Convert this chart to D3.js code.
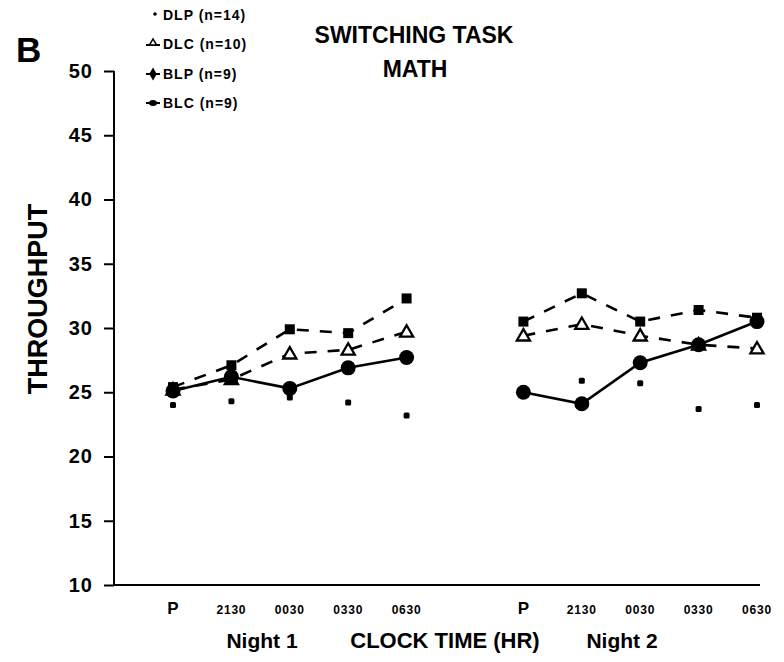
<!DOCTYPE html>
<html><head><meta charset="utf-8">
<script src="https://cdn.jsdelivr.net/npm/d3@7"></script>
<style>body{margin:0;background:#fff}svg{display:block}text{font-family:"Liberation Sans",Arial,sans-serif;font-weight:bold;fill:#000}</style>
</head><body>
<script>
const timeLabels = ["P","2130","0030","0330","0630","P","2130","0030","0330","0630"];
const timeIndex = [0,1,2,3,4,6,7,8,9,10];
const yTicks = [10,15,20,25,30,35,40,45,50];
const dlp = [24.0,24.3,24.6,24.2,23.2, 25.0,25.9,25.7,23.7,24.0];
const dlc = [25.2,26.0,28.0,28.3,29.7, 29.4,30.3,29.4,28.7,28.4];
const blp = [25.1,26.2,25.3,26.9,27.7, 25.0,24.1,27.3,28.7,30.5];
const blc = [25.4,27.1,29.9,29.6,32.3, 30.5,32.7,30.5,31.4,30.8];
const legendLabels = ["DLP (n=14)","DLC (n=10)","BLP (n=9)","BLC (n=9)"];

const W=784,H=662;
const svg=d3.select("body").append("svg").attr("width",W).attr("height",H);
const x=d3.scaleLinear().domain([0,10]).range([173,757]);
const y=d3.scaleLinear().domain([10,50]).range([585,71]);

// axes
const yAxis=d3.axisLeft(y).tickValues(yTicks).tickSize(10).tickPadding(11);
const gy=svg.append("g").attr("transform","translate(114,0)").call(yAxis);
gy.select(".domain").attr("stroke","#000").attr("stroke-width",2).attr("d","M0,71V585");
gy.selectAll(".tick line").attr("stroke-width",2);
gy.selectAll(".tick text").style("font-size","20px").style("letter-spacing","1px").attr("font-family",'"Liberation Sans",Arial,sans-serif').attr("font-weight","bold");
svg.append("line").attr("x1",114).attr("x2",760).attr("y1",585).attr("y2",585).attr("stroke","#000").attr("stroke-width",2.2);

// x labels
svg.selectAll("text.xl").data(timeLabels).enter().append("text").attr("class","xl")
 .attr("x",(d,i)=>x(timeIndex[i])).attr("y",614).attr("text-anchor","middle")
 .style("font-size",d=>d==="P"?"17px":"12px").style("letter-spacing",d=>d==="P"?"0px":"0.8px").text(d=>d);

svg.append("text").attr("x",262).attr("y",648).attr("text-anchor","middle").style("font-size","21px").text("Night 1");
svg.append("text").attr("x",445).attr("y",648).attr("text-anchor","middle").style("font-size","22px").text("CLOCK TIME (HR)");
svg.append("text").attr("x",622).attr("y",648).attr("text-anchor","middle").style("font-size","21px").text("Night 2");

svg.append("text").attr("transform","translate(47,299) rotate(-90)").attr("text-anchor","middle").style("font-size","27px").text("THROUGHPUT");
svg.append("text").attr("x",16).attr("y",62).style("font-size","35px").text("B");
svg.append("text").attr("x",414).attr("y",43).attr("text-anchor","middle").style("font-size","23px").text("SWITCHING TASK");
svg.append("text").attr("x",415).attr("y",77).attr("text-anchor","middle").style("font-size","23px").text("MATH");

// lines
function segs(vals){return [vals.slice(0,5).map((v,i)=>[timeIndex[i],v]), vals.slice(5).map((v,i)=>[timeIndex[i+5],v])];}
const line=d3.line().x(d=>x(d[0])).y(d=>y(d[1]));
function drawLine(vals,dash){
  segs(vals).forEach(s=>svg.append("path").attr("d",line(s)).attr("fill","none").attr("stroke","#000")
   .attr("stroke-width",2.6).attr("stroke-dasharray",dash||null));
}
drawLine(blc,"12,11");
drawLine(dlc,"12,11");
drawLine(blp,null);

// markers
const pts=v=>v.map((d,i)=>[timeIndex[i],d]);
svg.selectAll("rect.blc").data(pts(blc)).enter().append("rect")
 .attr("x",d=>x(d[0])-5).attr("y",d=>y(d[1])-5).attr("width",10).attr("height",10).attr("fill","#000");
const tri=d3.symbol().type(d3.symbolTriangle).size(75);
svg.selectAll("path.dlc").data(pts(dlc)).enter().append("path")
 .attr("transform",d=>`translate(${x(d[0])},${y(d[1])+1})`).attr("d",tri).attr("fill","#fff").attr("stroke","#000").attr("stroke-width",2.3);
svg.selectAll("circle.blp").data(pts(blp)).enter().append("circle")
 .attr("cx",d=>x(d[0])).attr("cy",d=>y(d[1])).attr("r",7.5).attr("fill","#000");
svg.selectAll("rect.dlp").data(pts(dlp)).enter().append("rect")
 .attr("x",d=>x(d[0])-3).attr("y",d=>y(d[1])-3).attr("width",6).attr("height",6).attr("rx",1.5).attr("fill","#000");

// legend
const ly=[15,44,74,103];
const lg=svg.append("g");
legendLabels.forEach((t,i)=>{
  lg.append("text").attr("x",163).attr("y",ly[i]+5).style("font-size","14px").style("letter-spacing","1px").text(t);
});
lg.append("circle").attr("cx",155).attr("cy",ly[0]-1).attr("r",1.8).attr("fill","#000");
lg.append("line").attr("x1",146).attr("x2",160).attr("y1",ly[1]+1).attr("y2",ly[1]+1).attr("stroke","#000").attr("stroke-width",2);
lg.append("path").attr("transform",`translate(153,${ly[1]-1})`).attr("d",d3.symbol().type(d3.symbolTriangle).size(22)).attr("fill","#fff").attr("stroke","#000").attr("stroke-width",1.5);
lg.append("path").attr("transform",`translate(153,${ly[2]})`).attr("d",d3.symbol().type(d3.symbolDiamond).size(50)).attr("fill","#000");
lg.append("line").attr("x1",146).attr("x2",160).attr("y1",ly[2]).attr("y2",ly[2]).attr("stroke","#000").attr("stroke-width",2);
lg.append("line").attr("x1",146).attr("x2",160).attr("y1",ly[3]).attr("y2",ly[3]).attr("stroke","#000").attr("stroke-width",2);
lg.append("ellipse").attr("cx",153).attr("cy",ly[3]).attr("rx",4).attr("ry",3).attr("fill","#000");
</script>
</body></html>
